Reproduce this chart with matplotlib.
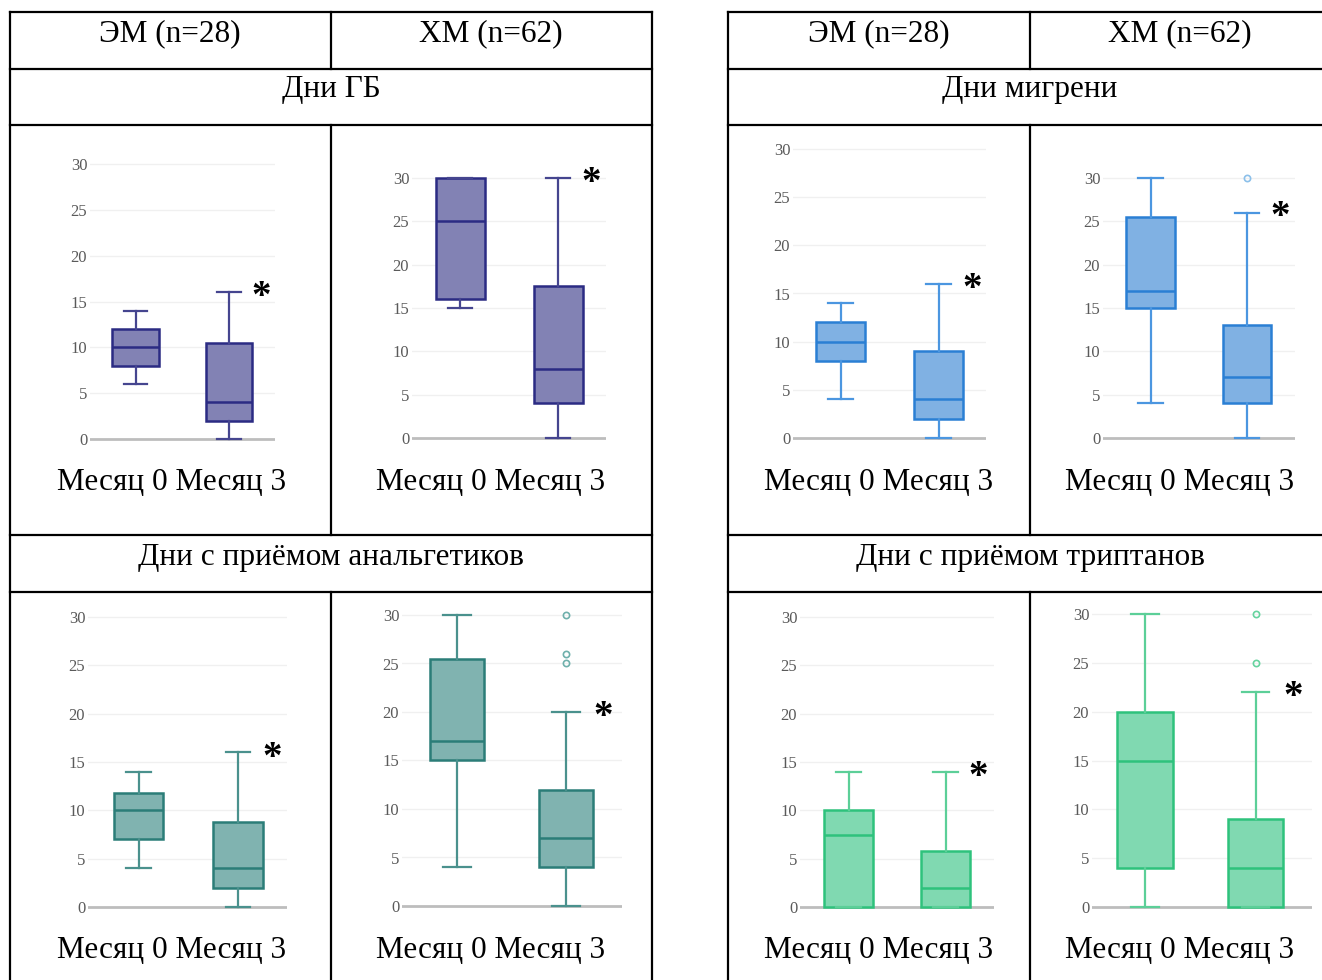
import matplotlib
matplotlib.use("Agg")
import matplotlib.pyplot as plt
from matplotlib.lines import Line2D

# ---------------- данные ----------------
# каждый ящик: [нижний ус, Q1, медиана, Q3, верхний ус]
MONTHS = ["Месяц 0", "Месяц 3"]
GROUPS = ["ЭМ (n=28)", "ХМ (n=62)"]
TITLES = ["Дни ГБ", "Дни мигрени", "Дни с приёмом анальгетиков", "Дни с приёмом триптанов"]

HB_EM = [[6, 8, 10, 12, 14], [0, 2, 4, 10.5, 16]]
HB_CM = [[15, 16, 25, 30, 30], [0, 4, 8, 17.5, 30]]
MIG_EM = [[4, 8, 10, 12, 14], [0, 2, 4, 9, 16]]
MIG_CM = [[4, 15, 17, 25.5, 30], [0, 4, 7, 13, 26]]
ANALG_EM = [[4, 7, 10, 11.8, 14], [0, 2, 4, 8.8, 16]]
ANALG_CM = [[4, 15, 17, 25.5, 30], [0, 4, 7, 12, 20]]
TRIP_EM = [[0, 0, 7.5, 10, 14], [0, 0, 2, 5.8, 14]]
TRIP_CM = [[0, 4, 15, 20, 30], [0, 0, 4, 9, 22]]

# выбросы
NO_OUT = [[], []]
MIG_CM_OUT = [[], [30]]
ANALG_CM_OUT = [[], [25, 26, 30]]
TRIP_CM_OUT = [[], [25, 30]]

Y_TICKS = [0, 5, 10, 15, 20, 25, 30]

# ---------------- оформление ----------------
W, H = 1322, 980
SERIF = "Liberation Serif"

PURPLE = dict(fill="#8282b4", edge="#2b2b83", whisk="#45458f", out="#8a8ac0")
BLUE = dict(fill="#80b1e3", edge="#2a7fd4", whisk="#4b96e0", out="#8cc0ea")
TEAL = dict(fill="#80b3b0", edge="#2b7d78", whisk="#4a918d", out="#6fb0ac")
GREEN = dict(fill="#80d9b1", edge="#2ec27c", whisk="#5ccf98", out="#66d39f")

# геометрия панелей в пикселях: ось слева/справа, центры ящиков, y(0), y(30)
PANELS = [
    (HB_EM, NO_OUT, PURPLE, (90, 275, 135.5, 229, 439, 164)),
    (HB_CM, NO_OUT, PURPLE, (412, 606, 460, 558, 438, 178)),
    (MIG_EM, NO_OUT, BLUE, (793, 986, 840.5, 938.5, 438, 149)),
    (MIG_CM, MIG_CM_OUT, BLUE, (1103, 1295, 1150.5, 1247, 438, 178)),
    (ANALG_EM, NO_OUT, TEAL, (88, 287, 138.5, 238, 907, 617)),
    (ANALG_CM, ANALG_CM_OUT, TEAL, (402, 622, 457, 566, 906, 615)),
    (TRIP_EM, NO_OUT, GREEN, (800, 994, 848.5, 945.5, 907, 617)),
    (TRIP_CM, TRIP_CM_OUT, GREEN, (1092, 1312, 1145, 1255.5, 907, 614)),
]


def fx(x):
    return x / W


def fy(y):
    return 1 - y / H


fig = plt.figure(figsize=(W / 100, H / 100), dpi=100)


def line(x0, y0, x1, y1):
    fig.add_artist(Line2D([fx(x0), fx(x1)], [fy(y0), fy(y1)], color="black", lw=1.6))


def text(x, y, s, size=22.5, **kw):
    fig.text(fx(x), fy(y), s, ha="center", va="center", fontsize=size, family=SERIF, **kw)


# ---------------- таблица ----------------
ROWS = [12, 69, 125, 535, 592]
for xl, xm, xr in [(10, 331, 652), (728, 1030, 1340)]:
    for y in ROWS:
        line(xl, y, xr, y)
    line(xl, 12, xl, 980)
    line(xr, 12, xr, 980)
    for y0, y1 in [(12, 69), (125, 535), (592, 980)]:
        line(xm, y0, xm, y1)

text(170, 34, GROUPS[0])
text(491, 34, GROUPS[1])
text(879, 34, GROUPS[0])
text(1180, 34, GROUPS[1])
text(331, 90, TITLES[0])
text(1030, 90, TITLES[1])
text(331, 557, TITLES[2])
text(1030, 557, TITLES[3])

# ---------------- ящики с усами ----------------
for i, (boxes, outs, col, (xl, xr, c1, c2, y0, y30)) in enumerate(PANELS):
    d = c2 - c1
    ppu = (y0 - y30) / 30.0
    ylo, yhi = -1.5, 31.5
    x_lo = (xl - c1) / d
    x_hi = 1 + (xr - c2) / d
    top = y30 - (yhi - 30) * ppu
    bot = y0 - ylo * ppu
    ax = fig.add_axes([fx(xl), fy(bot), (xr - xl) / W, (bot - top) / H])
    ax.set_xlim(x_lo, x_hi)
    ax.set_ylim(ylo, yhi)

    stats = []
    for b, fl in zip(boxes, outs):
        stats.append(dict(whislo=b[0], q1=b[1], med=b[2], q3=b[3], whishi=b[4], fliers=fl))
    ax.bxp(stats, positions=[0, 1], widths=0.5, patch_artist=True,
           boxprops=dict(facecolor=col["fill"], edgecolor=col["edge"], lw=1.8),
           medianprops=dict(color=col["edge"], lw=1.8),
           whiskerprops=dict(color=col["whisk"], lw=1.6),
           capprops=dict(color=col["whisk"], lw=1.6),
           flierprops=dict(marker="o", markerfacecolor="none", markeredgecolor=col["out"],
                           markersize=4.5, markeredgewidth=1.2),
           zorder=3)

    ax.axhline(0, color="#bdbdbd", lw=2, zorder=1)
    for t in Y_TICKS[1:]:
        ax.axhline(t, color="#f0f0f0", lw=1, zorder=0)

    for s in ax.spines.values():
        s.set_visible(False)
    ax.set_yticks(Y_TICKS)
    ax.set_yticklabels([str(t) for t in Y_TICKS], family=SERIF, fontsize=12, color="#5a5a5a")
    ax.tick_params(axis="y", length=0, pad=2)
    ax.set_xticks([])
    ax.patch.set_alpha(0)

    # звёздочка у месяца 3
    ax.text(1.34, boxes[1][4] - 0.6, "*", ha="center", va="center", fontsize=28,
            fontweight="bold", family=SERIF, color="black")

    # подпись под графиком
    cx = [172, 491, 879, 1180][i % 4]
    cy = 482 if i < 4 else 950
    text(cx, cy, MONTHS[0] + " " + MONTHS[1])

fig.savefig("out.png", dpi=100)
